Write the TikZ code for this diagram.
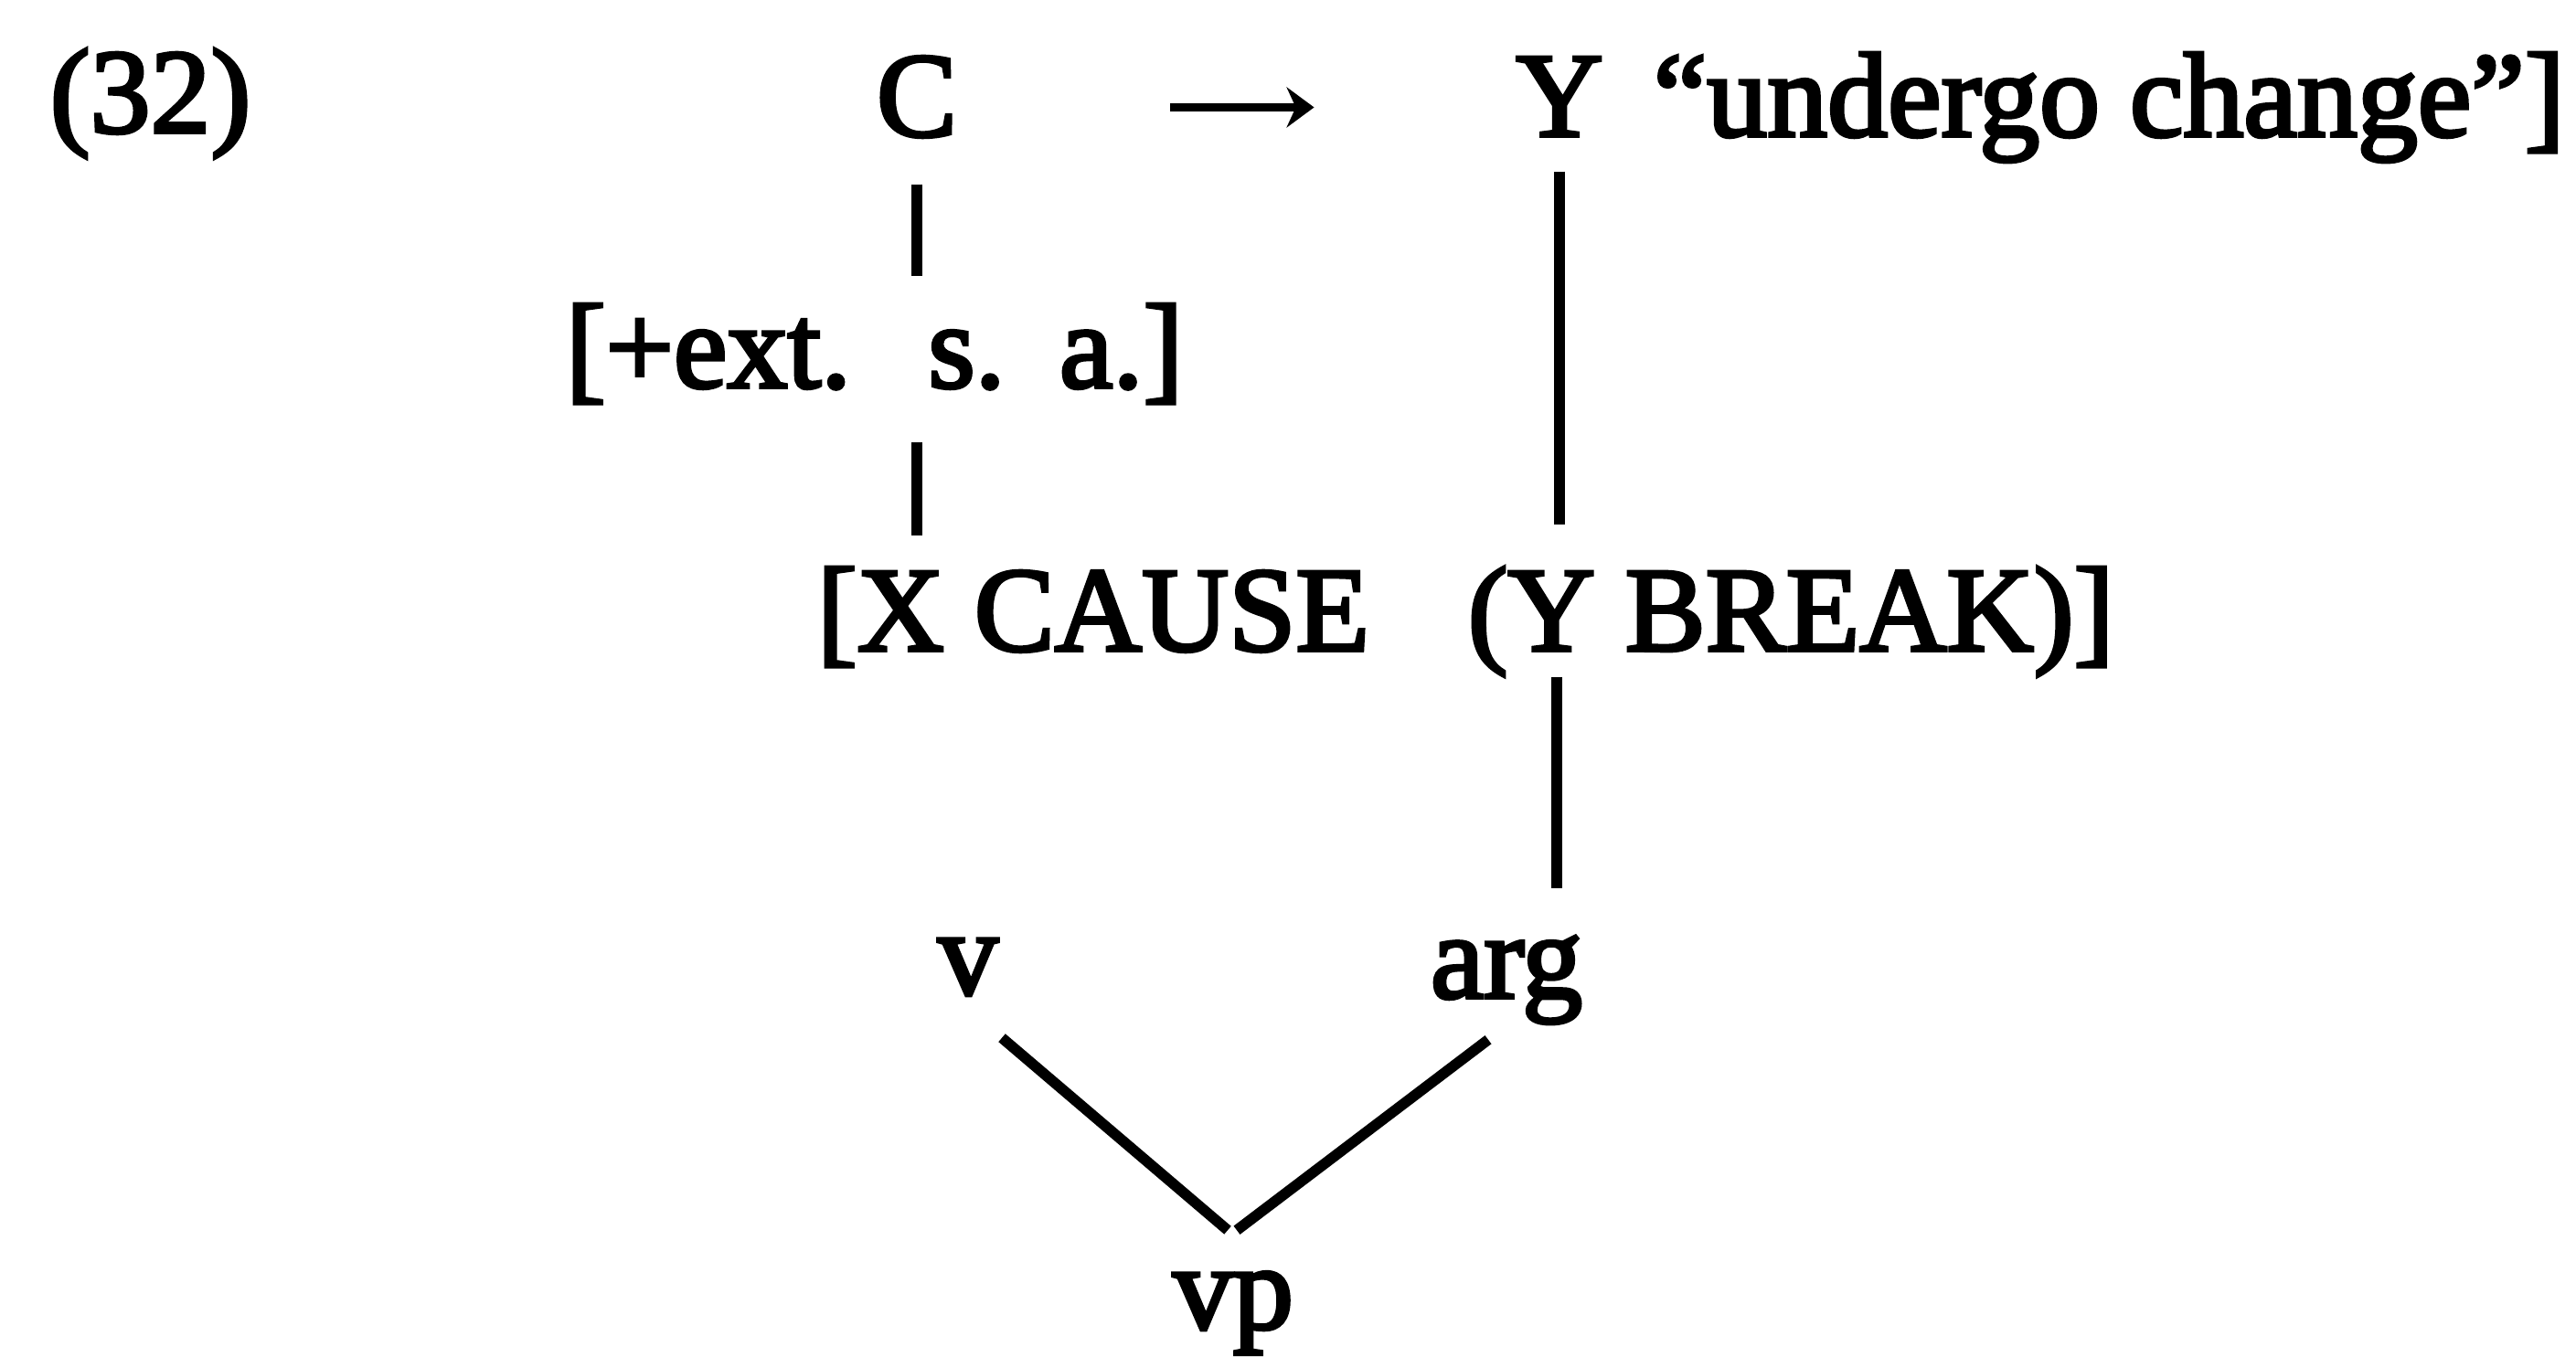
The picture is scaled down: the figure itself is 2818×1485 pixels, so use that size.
\documentclass[tikz,border=0pt]{standalone}
\usepackage{fontspec}
\newfontfamily\reffont{Liberation Serif}[FakeBold=3]
\usetikzlibrary{arrows.meta}
\begin{document}
\begin{tikzpicture}[x=0.01cm,y=-0.01cm,
  lbl/.style={inner sep=0pt, text height=0.88cm, text depth=0.25cm,
    font=\reffont\fontsize{37.5}{40}\selectfont},
  edge/.style={line width=3.3pt}]
\useasboundingbox (0,0) rectangle (2818,1485);
\node[lbl,anchor=base west] (ex) at (54,145) {(32)};
\node[lbl,anchor=base] (C) at (1003,149) {C};
\node[lbl,anchor=base] (Y) at (1706,149) {Y};
\node[lbl,anchor=base west] (uc) at (1808,149) {“undergo change”]};
\node[lbl,anchor=base west] (ext) at (618,424) {[+ext.\hspace{0.64em}s.\hspace{0.45em}a.]};
\node[lbl,anchor=base west] (xc) at (893,712) {[X CAUSE};
\node[lbl,anchor=base west] (yb) at (1605,712) {(Y BREAK)]};
\node[lbl,anchor=base] (v) at (1059,1088) {v};
\node[lbl,anchor=base] (arg) at (1648,1092) {arg};
\node[lbl,anchor=base] (vp) at (1349,1454) {vp};
\draw[edge,line width=2.8pt,-{Stealth[length=0.3cm,width=0.44cm,inset=0.1cm]},
  shorten <=2.32cm, shorten >=2.20cm] (C) -- (Y);
\draw[edge, shorten <=0.27cm, shorten >=0.33cm] (C.south) -- (C.south |- ext.north);
\draw[edge, shorten <=0.34cm, shorten >=0.37cm] (C.south |- ext.south) -- (C.south |- xc.north);
\draw[edge, shorten <=0.13cm, shorten >=0.49cm] (Y.south) -- (Y.south |- yb.north);
\draw[edge, shorten <=0.03cm, shorten >=0.31cm] ([xshift=-0.03cm]Y.south |- yb.south) -- ([xshift=-0.03cm]Y.south |- arg.north);
\draw[edge] ([shift={(0.37cm,-0.22cm)}]v.south) -- ([shift={(-0.06cm,0.19cm)}]vp.north);
\draw[edge] ([shift={(-0.20cm,-0.20cm)}]arg.south) -- ([shift={(0.04cm,0.19cm)}]vp.north);
\end{tikzpicture}
\end{document}
